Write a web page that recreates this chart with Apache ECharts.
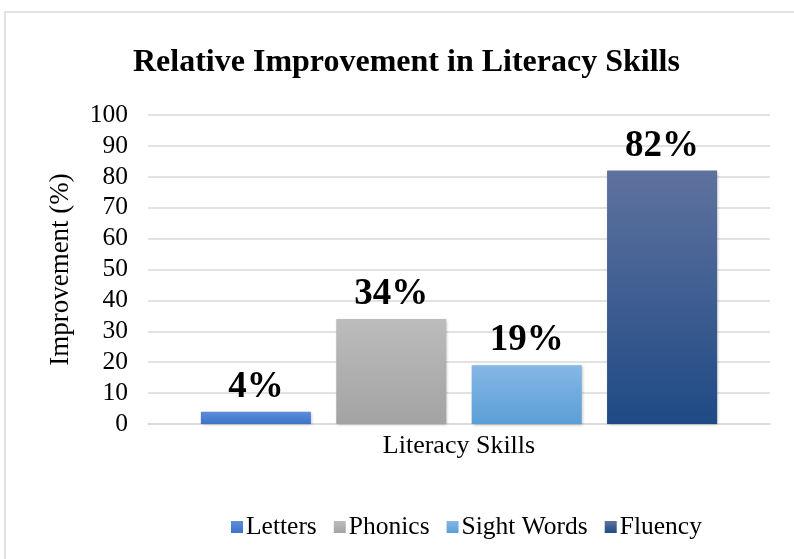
<!DOCTYPE html>
<html>
<head>
<meta charset="utf-8">
<script src="https://cdn.jsdelivr.net/npm/echarts@6/dist/echarts.min.js"></script>
<style>
  html, body { margin: 0; padding: 0; background: #fff; }
  #chart { width: 794px; height: 559px; }
</style>
</head>
<body>
<div id="chart"></div>
<script>
// Literacy skill categories and their relative improvement (%)
const categories = ['Literacy Skills'];
const skills = ['Letters', 'Phonics', 'Sight Words', 'Fluency'];
const improvement = [4, 34, 19, 82];
const yTicks = { min: 0, max: 100, interval: 10 };

const serif = '"Liberation Serif", "Times New Roman", serif';
const gradients = [
  ['#5c8fd9', '#3d72c8'],
  ['#bcbcbc', '#a3a3a3'],
  ['#85b7e5', '#5a9fd7'],
  ['#5f729e', '#1f4a85']
];

const series = skills.map((name, i) => ({
  name: name,
  type: 'bar',
  data: [improvement[i]],
  barGap: '23%',
  barCategoryGap: '17%',
  itemStyle: {
    color: new echarts.graphic.LinearGradient(0, 0, 0, 1, [
      { offset: 0, color: gradients[i][0] },
      { offset: 1, color: gradients[i][1] }
    ]),
    shadowColor: 'rgba(0,0,0,0.25)',
    shadowBlur: 3,
    shadowOffsetX: 1,
    shadowOffsetY: 1
  },
  label: {
    show: true,
    position: 'top',
    distance: 6,
    formatter: '{c}%',
    fontFamily: serif,
    fontWeight: 'bold',
    fontSize: 37,
    color: '#000'
  }
}));

const chart = echarts.init(document.getElementById('chart'));
chart.setOption({
  animation: false,
  color: gradients.map(g => g[1]),
  graphic: [{
    type: 'rect',
    shape: { x: 5, y: 12, width: 800, height: 560 },
    style: { fill: 'none', stroke: '#d9d9d9', lineWidth: 1.5 },
    silent: true
  }],
  title: {
    text: 'Relative Improvement in Literacy Skills',
    left: 128,
    top: 42,
    textStyle: { fontFamily: serif, fontWeight: 'bold', fontSize: 32, color: '#000' }
  },
  legend: {
    bottom: 14,
    left: 226,
    itemWidth: 12,
    itemHeight: 12,
    itemGap: 17,
    icon: 'rect',
    textStyle: { fontFamily: serif, fontSize: 25.5, color: '#000', padding: [0, 0, 0, -2] },
    data: skills
  },
  grid: { left: 148, right: 24, top: 115, bottom: 135, containLabel: false },
  xAxis: {
    type: 'category',
    data: categories,
    axisLine: { show: true, lineStyle: { color: '#d9d9d9', width: 1.5 } },
    axisTick: { show: false },
    axisLabel: { fontFamily: serif, fontSize: 26, color: '#000', margin: 9 }
  },
  yAxis: {
    type: 'value',
    min: yTicks.min,
    max: yTicks.max,
    interval: yTicks.interval,
    name: 'Improvement (%)',
    nameLocation: 'middle',
    nameGap: 74,
    nameTextStyle: { fontFamily: serif, fontSize: 27, color: '#000' },
    axisLine: { show: false },
    axisTick: { show: false },
    axisLabel: { fontFamily: serif, fontSize: 25.5, color: '#000', margin: 20 },
    splitLine: { lineStyle: { color: '#d9d9d9', width: 1.5 } }
  },
  series: series
});
</script>
</body>
</html>
